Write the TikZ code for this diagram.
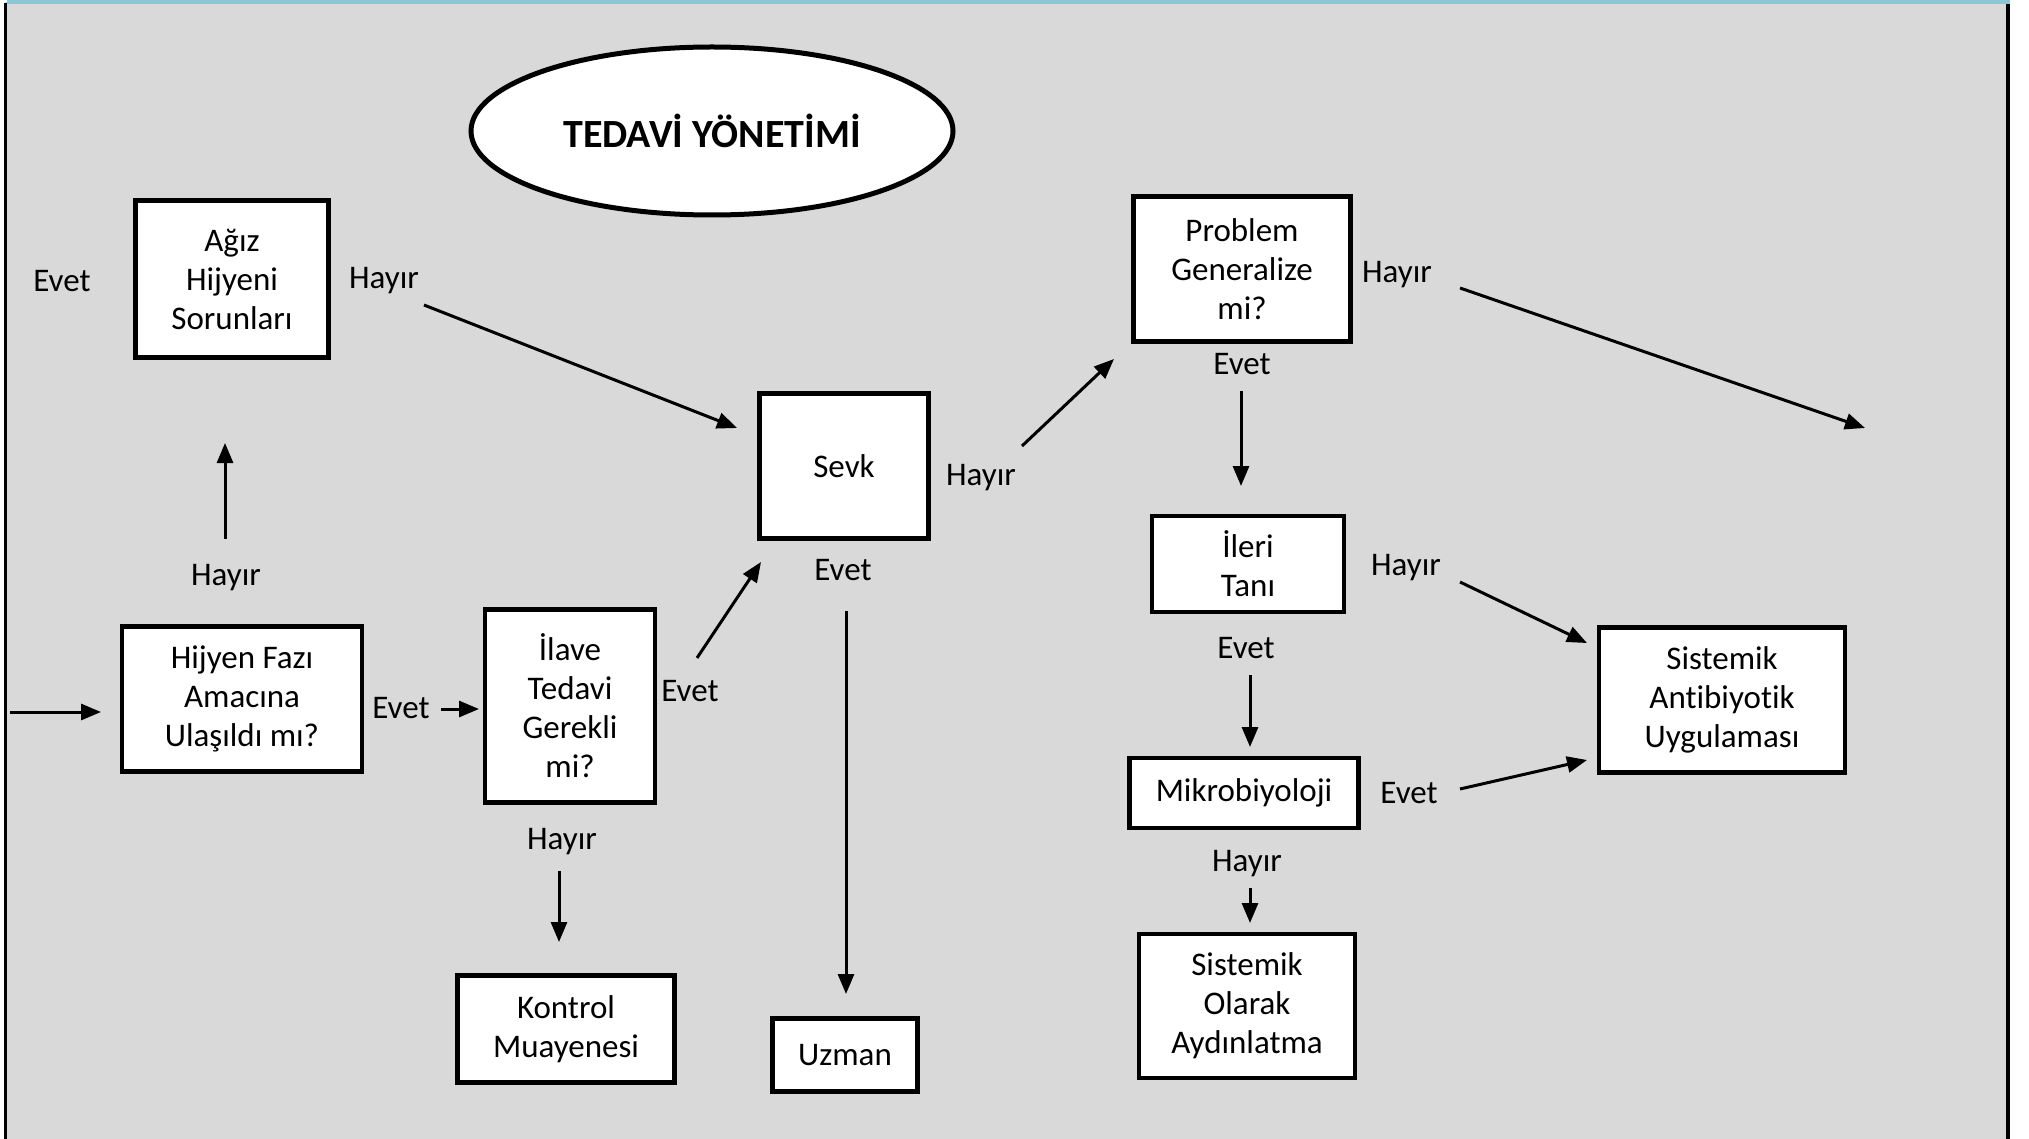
\documentclass[tikz,border=0pt]{standalone}
\usepackage{fontspec}
\setmainfont{Carlito}[Ligatures=NoCommon]
\usetikzlibrary{arrows.meta,shapes.geometric}
\definecolor{panel}{RGB}{217,217,217}
\definecolor{topband}{RGB}{140,198,214}
\tikzset{
  box/.style={draw=black,line width=4.5pt,fill=white,align=center,inner sep=0pt,
              font=\fontsize{33}{39}\selectfont},
  lbl/.style={inner sep=0pt,font=\fontsize{33}{39}\selectfont},
  flow/.style={line width=3pt,-{Triangle[length=20pt,width=16pt]}},
  titleshape/.style={draw=black,line width=5pt,fill=white,ellipse,inner sep=0pt,
              font=\bfseries\fontsize{40}{46}\selectfont}
}
\begin{document}
\begin{tikzpicture}[x=1pt,y=-1pt]
\useasboundingbox (0,0) rectangle (2029,1139);
% frame of the chart
\fill[white] (0,0) rectangle (2029,1139);
\fill[panel] (5,2) rectangle (2008,1139);
\draw[line width=3.5pt] (5.5,3) -- (5.5,1139);
\draw[line width=3.5pt] (2008,3) -- (2008,1139);
\fill[topband] (7,0) rectangle (2010,4);

% title
\node[titleshape,minimum width=482,minimum height=168] (title) at (712,131) {TEDAVİ YÖNETİMİ};

% boxes
\node[box,minimum width=193,minimum height=157] (agiz) at (232,279) {Ağız\\Hijyeni\\Sorunları};
\node[box,minimum width=240,minimum height=145] (faz) at (242,699) {Hijyen Fazı\\Amacına\\Ulaşıldı mı?};
\node[box,minimum width=170,minimum height=193] (ilave) at (570,706) {İlave\\Tedavi\\Gerekli\\mi?};
\node[box,minimum width=169,minimum height=145] (sevk) at (844,466) {Sevk};
\node[box,minimum width=217,minimum height=107] (kontrol) at (566,1029) {Kontrol\\Muayenesi};
\node[box,minimum width=145,minimum height=73] (uzman) at (845,1055) {Uzman};
\node[box,minimum width=217,minimum height=145] (problem) at (1242,269) {Problem\\Generalize\\mi?};
\node[box,minimum width=192,minimum height=96] (ileri) at (1248,564) {İleri\\Tanı};
\node[box,minimum width=229,minimum height=70] (mikro) at (1244,793) {Mikrobiyoloji};
\node[box,minimum width=216,minimum height=144] (aydin) at (1247,1006) {Sistemik\\Olarak\\Aydınlatma};
\node[box,minimum width=246,minimum height=145] (antib) at (1722,700) {Sistemik\\Antibiyotik\\Uygulaması};

% decision labels
\node[lbl] (l1) at (62,281) {Evet};
\node[lbl] (l2) at (384,281) {Hayır};
\node[lbl] (l3) at (226,578) {Hayır};
\node[lbl] (l4) at (401,708) {Evet};
\node[lbl] (l5) at (690,691) {Evet};
\node[lbl] (l6) at (562,842) {Hayır};
\node[lbl] (l7) at (981,478) {Hayır};
\node[lbl] (l8) at (843,570) {Evet};
\node[lbl] (l9) at (1397,275) {Hayır};
\node[lbl] (l10) at (1242,364) {Evet};
\node[lbl] (l11) at (1406,568) {Hayır};
\node[lbl] (l12) at (1246,648) {Evet};
\node[lbl] (l13) at (1409,793) {Evet};
\node[lbl] (l14) at (1247,864) {Hayır};

% connector end points
\coordinate (a0) at (10,712);   \coordinate (a1) at (101,712);
\coordinate (b0) at (225,539);  \coordinate (b1) at (225,443);
\coordinate (c0) at (424,305);  \coordinate (c1) at (737,428);
\coordinate (d0) at (441,709);  \coordinate (d1) at (479,709);
\coordinate (e0) at (697,658);  \coordinate (e1) at (761,562);
\coordinate (f0) at (559,871);  \coordinate (f1) at (559,942);
\coordinate (g0) at (1022,446); \coordinate (g1) at (1114,359);
\coordinate (h0) at (846,611);  \coordinate (h1) at (846,994);
\coordinate (i0) at (1460,288); \coordinate (i1) at (1865,428);
\coordinate (j0) at (1241,391); \coordinate (j1) at (1241,486);
\coordinate (k0) at (1460,582); \coordinate (k1) at (1587,643);
\coordinate (m0) at (1250,675); \coordinate (m1) at (1250,747);
\coordinate (n0) at (1460,789); \coordinate (n1) at (1587,760);
\coordinate (p0) at (1250,888); \coordinate (p1) at (1250,923);

% connectors
\draw[flow] (a0) -- (a1);
\draw[flow] (b0) -- (b1);
\draw[flow] (c0) -- (c1);
\draw[flow] (d0) -- (d1);
\draw[flow] (e0) -- (e1);
\draw[flow] (f0) -- (f1);
\draw[flow] (g0) -- (g1);
\draw[flow] (h0) -- (h1);
\draw[flow] (i0) -- (i1);
\draw[flow] (j0) -- (j1);
\draw[flow] (k0) -- (k1);
\draw[flow] (m0) -- (m1);
\draw[flow] (n0) -- (n1);
\draw[flow] (p0) -- (p1);
\end{tikzpicture}
\end{document}
